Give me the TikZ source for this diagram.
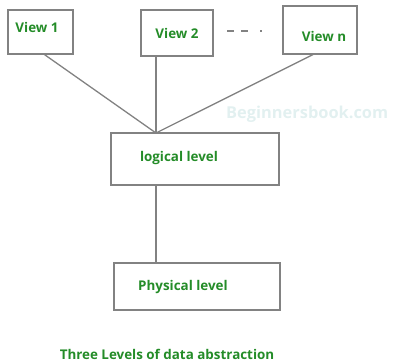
\documentclass[tikz,border=0pt]{standalone}
\usepackage{fontspec}
\setsansfont{Open Sans}
\definecolor{lblgreen}{RGB}{36,140,40}
\definecolor{linegray}{RGB}{130,130,130}
\definecolor{wmgray}{RGB}{226,240,240}
\tikzset{
  levelbox/.style={draw=linegray,line width=1.2pt,inner sep=0pt},
  lbl/.style={text=lblgreen,font=\sffamily\bfseries\fontsize{13.4}{15}\selectfont},
  link/.style={draw=linegray,line width=1.3pt}
}
\begin{document}
\begin{tikzpicture}[x=1pt,y=-1pt]
  \useasboundingbox (0,0) rectangle (394,364);
  \node[anchor=west,inner sep=1pt,text=wmgray,font=\sffamily\bfseries\fontsize{16.4}{18}\selectfont] (wm) at (225,114) {Beginnersbook.com};

  % the external views
  \node[levelbox,minimum width=65pt,minimum height=44pt] (v1) at (40.5,32) {};
  \node[levelbox,minimum width=72pt,minimum height=46pt] (v2) at (177,33) {};
  \node[levelbox,minimum width=74pt,minimum height=48pt] (vn) at (320,30) {};
  \node[lbl] (t1) at (37,27) {View 1};
  \node[lbl] (t2) at (177,33) {View 2};
  \node[lbl] (tn) at (324,36) {View n};
  \draw[linegray,line width=1.3pt,dash pattern=on 7pt off 7pt on 7pt off 12pt on 2pt] (227,31) -- (265,31);

  % logical and physical levels
  \node[levelbox,minimum width=168pt,minimum height=52pt] (logical) at (195,159) {};
  \node[levelbox,minimum width=166pt,minimum height=47pt] (physical) at (197,286.5) {};
  \node[lbl] (tl) at (179,158) {logical level};
  \node[lbl] (tp) at (183,287) {Physical level};

  \coordinate (hub) at (156,133);
  \draw[link] ([xshift=4pt]v1.south) -- (hub);
  \draw[link] (v2.south -| hub) -- (hub);
  \draw[link] ([xshift=-7pt]vn.south) -- (hub);
  \draw[link] (logical.south -| hub) -- (physical.north -| hub);

  \node[lbl] (title) at (167,354) {Three Levels of data abstraction};
\end{tikzpicture}
\end{document}
